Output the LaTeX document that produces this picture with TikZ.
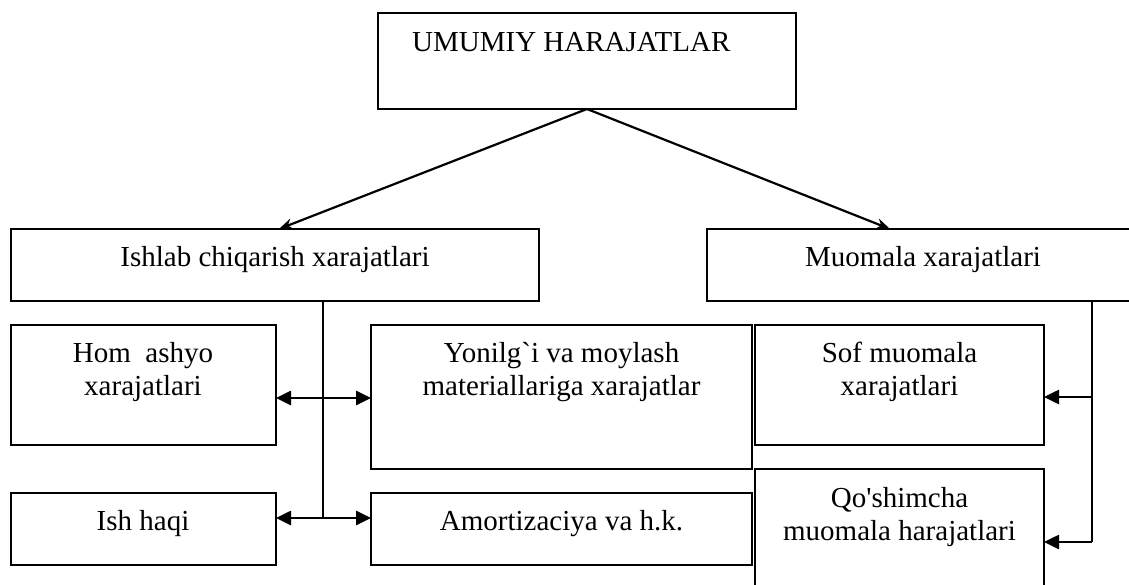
\documentclass[tikz,border=0pt]{standalone}
\usepackage{fontspec}
\setmainfont{Liberation Serif}[Ligatures=TeXOff]
\usetikzlibrary{arrows.meta}
\begin{document}
\begin{tikzpicture}[x=1pt,y=-1pt,
  box/.style={draw, line width=2pt, inner sep=0pt, outer sep=0pt},
  lbl/.style={font=\fontsize{29}{33}\selectfont, align=center, inner sep=0pt},
  ln/.style={line width=2pt},
  slant/.style={line width=2.2pt, -{Stealth[length=14pt,width=11pt]}},
  one/.style={line width=2.6pt, -{Triangle[length=15pt,width=14pt]}},
  both/.style={line width=2.6pt, {Triangle[length=15pt,width=14pt]}-{Triangle[length=15pt,width=14pt]}}]
\useasboundingbox (0,0) rectangle (1129,585);
\clip (0,0) rectangle (1129,585);
% boxes
\node[box, minimum width=418pt, minimum height=96pt] (top) at (587,61) {};
\node[box, minimum width=528pt, minimum height=72pt] (ishlab) at (275,265) {};
\node[box, minimum width=433pt, minimum height=72pt] (muom) at (923.5,265) {};
\node[box, minimum width=265pt, minimum height=120pt] (hom) at (143.5,385) {};
\node[box, minimum width=381pt, minimum height=144pt] (yon) at (561.5,397) {};
\node[box, minimum width=265pt, minimum height=72pt] (ish) at (143.5,529) {};
\node[box, minimum width=381pt, minimum height=72pt] (amort) at (561.5,529) {};
\node[box, minimum width=289pt, minimum height=120pt] (sof) at (899.5,385) {};
\node[box, minimum width=289pt, minimum height=131pt] (qosh) at (899.5,534.5) {};
% labels (base anchor = baseline of last line)
\node[lbl, anchor=base west] (topt) at (412,52) {UMUMIY HARAJATLAR};
\node[lbl, anchor=base] (ishlabt) at (275,267) {Ishlab chiqarish xarajatlari};
\node[lbl, anchor=base] (muomt) at (923,267) {Muomala xarajatlari};
\node[lbl, anchor=base] (homt) at (143,395) {Hom\ \ ashyo\\xarajatlari};
\node[lbl, anchor=base] (yont) at (561.5,395) {Yonilg`i va moylash\\materiallariga xarajatlar};
\node[lbl, anchor=base] (isht) at (143,530) {Ish haqi};
\node[lbl, anchor=base] (amortt) at (561.5,530) {Amortizaciya va h.k.};
\node[lbl, anchor=base] (soft) at (899.5,395) {Sof muomala\\xarajatlari};
\node[lbl, anchor=base] (qosht) at (899.5,540) {Qo'shimcha\\muomala harajatlari};
% connector points
\coordinate (tipL) at (279,229);
\coordinate (tipR) at (890,229);
\coordinate (r1) at (323,398);
\coordinate (r2) at (323,518);
\coordinate (s1) at (1092,397);
\coordinate (s2) at (1092,542);
% connectors
\draw[slant] (top.south) -- (tipL);
\draw[slant] (top.south) -- (tipR);
\draw[ln] (ishlab.south -| r1) -- (r2);
\draw[both] (hom.east |- r1) -- (yon.west |- r1);
\draw[both] (ish.east |- r2) -- (amort.west |- r2);
\draw[ln] (muom.south -| s1) -- (s2);
\draw[one] (s1) -- (sof.east |- s1);
\draw[one] (s2) -- (qosh.east |- s2);
\end{tikzpicture}
\end{document}
